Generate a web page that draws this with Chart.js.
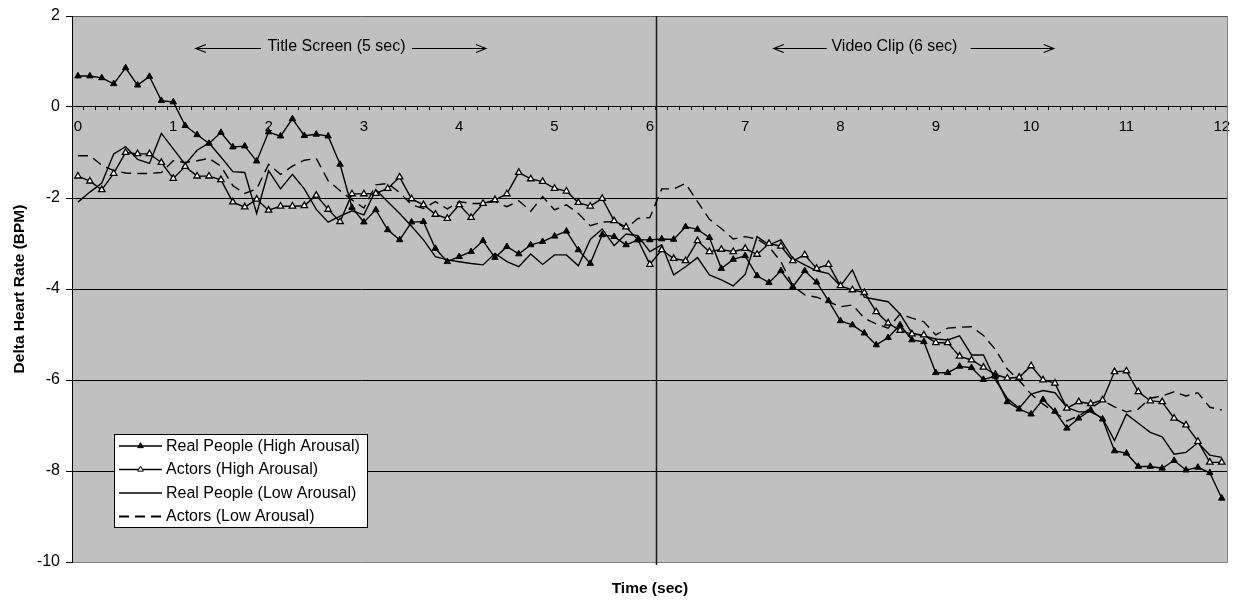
<!DOCTYPE html>
<html>
<head>
<meta charset="utf-8">
<script src="https://cdn.jsdelivr.net/npm/chart.js@4.4.1/dist/chart.umd.min.js"></script>
<style>
html,body{margin:0;padding:0;background:#fff;}
#wrap{width:1233px;height:602px;position:relative;}
</style>
</head>
<body>
<div id="wrap"><canvas id="c" width="1233" height="602"></canvas></div>
<script>
// ---------- DATA ----------
const categories = [
  0,0.125,0.25,0.375,0.5,0.625,0.75,0.875,
  1,1.125,1.25,1.375,1.5,1.625,1.75,1.875,
  2,2.125,2.25,2.375,2.5,2.625,2.75,2.875,
  3,3.125,3.25,3.375,3.5,3.625,3.75,3.875,
  4,4.125,4.25,4.375,4.5,4.625,4.75,4.875,
  5,5.125,5.25,5.375,5.5,5.625,5.75,5.875,
  6,6.125,6.25,6.375,6.5,6.625,6.75,6.875,
  7,7.125,7.25,7.375,7.5,7.625,7.75,7.875,
  8,8.125,8.25,8.375,8.5,8.625,8.75,8.875,
  9,9.125,9.25,9.375,9.5,9.625,9.75,9.875,
  10,10.125,10.25,10.375,10.5,10.625,10.75,10.875,
  11,11.125,11.25,11.375,11.5,11.625,11.75,11.875,
  12
];
const xTickLabels = ['0','1','2','3','4','5','6','7','8','9','10','11','12'];

const realHigh = [
  0.68,0.68,0.64,0.51,0.86,0.48,0.67,0.14,
  0.11,-0.41,-0.61,-0.80,-0.56,-0.88,-0.86,-1.19,
  -0.55,-0.64,-0.26,-0.63,-0.60,-0.64,-1.26,-2.21,
  -2.53,-2.26,-2.70,-2.92,-2.53,-2.52,-3.11,-3.40,
  -3.29,-3.18,-2.94,-3.31,-3.07,-3.23,-3.03,-2.96,
  -2.84,-2.73,-3.14,-3.44,-2.81,-2.85,-3.03,-2.92,
  -2.92,-2.90,-2.91,-2.63,-2.69,-2.87,-3.55,-3.35,
  -3.27,-3.71,-3.86,-3.60,-3.95,-3.60,-3.85,-4.26,
  -4.70,-4.79,-4.97,-5.23,-5.07,-4.79,-5.12,-5.16,
  -5.84,-5.84,-5.70,-5.73,-5.99,-5.92,-6.48,-6.64,
  -6.75,-6.43,-6.69,-7.06,-6.84,-6.66,-6.86,-7.56,
  -7.61,-7.90,-7.90,-7.94,-7.77,-7.98,-7.92,-8.04,
  -8.60
];
const actorsHigh = [
  -1.52,-1.63,-1.82,-1.46,-1.00,-1.03,-1.03,-1.22,
  -1.57,-1.31,-1.52,-1.52,-1.60,-2.09,-2.20,-2.03,
  -2.27,-2.18,-2.18,-2.17,-1.94,-2.25,-2.52,-1.91,
  -1.91,-1.90,-1.79,-1.54,-2.02,-2.15,-2.36,-2.45,
  -2.15,-2.43,-2.12,-2.04,-1.91,-1.44,-1.58,-1.64,
  -1.79,-1.85,-2.10,-2.18,-2.01,-2.50,-2.64,-2.92,
  -3.46,-3.14,-3.33,-3.38,-2.94,-3.18,-3.13,-3.18,
  -3.11,-3.24,-3.00,-3.06,-3.38,-3.25,-3.55,-3.46,
  -3.93,-4.02,-4.08,-4.50,-4.75,-4.91,-4.99,-5.01,
  -5.18,-5.18,-5.48,-5.56,-5.72,-5.88,-5.96,-5.94,
  -5.69,-6.00,-6.07,-6.62,-6.48,-6.52,-6.44,-5.82,
  -5.80,-6.26,-6.46,-6.48,-6.84,-6.99,-7.35,-7.81,
  -7.81
];
const realLow = [
  -2.09,-1.87,-1.67,-1.03,-0.87,-1.15,-1.24,-0.58,
  -0.92,-1.26,-0.95,-0.79,-1.10,-1.42,-1.44,-2.34,
  -1.40,-1.80,-1.48,-1.80,-2.25,-2.53,-2.40,-2.28,
  -2.37,-1.82,-2.08,-2.34,-2.62,-2.92,-3.29,-3.36,
  -3.40,-3.44,-3.47,-3.22,-3.40,-3.51,-3.23,-3.46,
  -3.25,-3.25,-3.49,-2.91,-2.68,-3.05,-2.79,-2.83,
  -3.18,-3.03,-3.69,-3.51,-3.31,-3.69,-3.80,-3.93,
  -3.68,-2.85,-3.03,-2.92,-3.33,-3.47,-3.60,-3.66,
  -3.93,-3.58,-4.18,-4.23,-4.28,-4.55,-4.97,-5.03,
  -5.10,-5.12,-5.03,-5.45,-5.45,-6.00,-6.40,-6.62,
  -6.31,-6.23,-6.28,-6.60,-6.70,-6.70,-6.84,-7.33,
  -6.75,-6.95,-7.15,-7.25,-7.63,-7.59,-7.38,-7.65,
  -7.70
];
const actorsLow = [
  -1.07,-1.07,-1.28,-1.40,-1.45,-1.46,-1.46,-1.44,
  -1.18,-1.22,-1.18,-1.13,-1.30,-1.73,-1.90,-1.80,
  -1.26,-1.48,-1.30,-1.17,-1.13,-1.62,-1.84,-2.04,
  -2.22,-1.71,-1.68,-1.88,-2.15,-2.23,-2.08,-2.24,
  -2.08,-2.12,-2.12,-2.08,-2.19,-2.06,-2.29,-1.97,
  -2.26,-2.15,-2.34,-2.61,-2.53,-2.52,-2.67,-2.45,
  -2.43,-1.80,-1.80,-1.68,-2.08,-2.47,-2.67,-2.90,
  -2.85,-2.90,-3.07,-3.40,-3.93,-4.13,-4.18,-4.28,
  -4.39,-4.35,-4.64,-4.77,-4.86,-4.55,-4.64,-4.72,
  -5.01,-4.86,-4.84,-4.83,-5.02,-5.33,-5.76,-6.01,
  -6.31,-6.53,-6.71,-6.90,-6.79,-6.62,-6.45,-6.59,
  -6.70,-6.64,-6.40,-6.35,-6.26,-6.35,-6.28,-6.60,
  -6.66
];
const seriesNames = [
  'Real People (High Arousal)',
  'Actors (High Arousal)',
  'Real People (Low Arousal)',
  'Actors (Low Arousal)'
];
const yAxisTitle = 'Delta Heart Rate (BPM)';
const xAxisTitle = 'Time (sec)';
const annotationTexts = ['Title Screen (5 sec)', 'Video Clip (6 sec)'];

// ---------- STYLE / LAYOUT ----------
const FONT = '"Liberation Sans", Arial, Helvetica, sans-serif';
Chart.defaults.font.family = FONT;
Chart.defaults.color = '#000';

const TRI_R = 3.7;

// annotation placement in data units (category index, y value)
const annotationLayout = [
  {text: annotationTexts[0], cx: 21.7, ty: 1.325, ay: 1.29, left: [9.9, 15.36], right: [28.03, 34.24]},
  {text: annotationTexts[1], cx: 68.53, ty: 1.325, ay: 1.29, left: [58.4, 62.85], right: [74.93, 81.9]}
];

function triPath(ctx, x, y, r) {
  ctx.beginPath();
  ctx.moveTo(x, y - r);
  ctx.lineTo(x + 0.8660254 * r, y + 0.5 * r);
  ctx.lineTo(x - 0.8660254 * r, y + 0.5 * r);
  ctx.closePath();
}

const bgPlugin = {
  id: 'bg',
  beforeDraw(chart) {
    const {ctx, chartArea: a} = chart;
    ctx.save();
    ctx.fillStyle = '#fff';
    ctx.fillRect(0, 0, chart.width, chart.height);
    ctx.fillStyle = '#c0c0c0';
    ctx.fillRect(a.left, a.top, a.right - a.left, a.bottom - a.top);
    ctx.restore();
  },
  beforeDatasetsDraw(chart) {
    const {ctx, chartArea: a} = chart;
    const xs = chart.scales.x;
    const px = Math.round((xs.getPixelForValue(48) + xs.getPixelForValue(49)) / 2) + 0.5;
    ctx.save();
    ctx.strokeStyle = '#808080';
    ctx.lineWidth = 1;
    ctx.beginPath();
    ctx.moveTo(Math.round(a.right) - 0.5, a.top);
    ctx.lineTo(Math.round(a.right) - 0.5, a.bottom);
    ctx.stroke();
    ctx.strokeStyle = '#1a1a1a';
    ctx.lineWidth = 1.5;
    ctx.beginPath();
    ctx.moveTo(px, a.top);
    ctx.lineTo(px, a.bottom + 3);
    ctx.stroke();
    ctx.restore();
  },
  afterDraw(chart) {
    const {ctx} = chart;
    const xs = chart.scales.x, ys = chart.scales.y;
    ctx.save();
    ctx.font = '16px ' + FONT;
    ctx.fillStyle = '#000';
    ctx.strokeStyle = '#000';
    ctx.lineWidth = 1.2;
    ctx.textAlign = 'center';
    ctx.textBaseline = 'middle';
    annotationLayout.forEach(an => {
      const ty = ys.getPixelForValue(an.ty);
      const ay = Math.round(ys.getPixelForValue(an.ay)) + 0.5;
      ctx.fillText(an.text, xs.getPixelForValue(an.cx), ty);
      const l0 = xs.getPixelForValue(an.left[0]), l1 = xs.getPixelForValue(an.left[1]);
      const r0 = xs.getPixelForValue(an.right[0]), r1 = xs.getPixelForValue(an.right[1]);
      ctx.beginPath();
      ctx.moveTo(l0, ay); ctx.lineTo(l1, ay);
      ctx.moveTo(l0 + 10, ay - 4); ctx.lineTo(l0, ay); ctx.lineTo(l0 + 10, ay + 4);
      ctx.moveTo(r0, ay); ctx.lineTo(r1, ay);
      ctx.moveTo(r1 - 10, ay - 4); ctx.lineTo(r1, ay); ctx.lineTo(r1 - 10, ay + 4);
      ctx.stroke();
    });
    const L = {x: 114.5, y: 434.5, w: 253, h: 93};
    ctx.fillStyle = '#fff';
    ctx.fillRect(L.x, L.y, L.w, L.h);
    ctx.strokeStyle = '#000';
    ctx.lineWidth = 1;
    ctx.strokeRect(L.x, L.y, L.w, L.h);
    const rows = [446, 469.5, 493, 516.5];
    ctx.textAlign = 'left';
    ctx.font = '16px ' + FONT;
    chart.data.datasets.forEach((ds, k) => {
      const y = rows[k];
      ctx.strokeStyle = '#000';
      ctx.lineWidth = ds.borderDash ? 2 : 1.5;
      ctx.setLineDash(ds.borderDash || []);
      ctx.beginPath();
      ctx.moveTo(119, y);
      ctx.lineTo(162, y);
      ctx.stroke();
      ctx.setLineDash([]);
      if (ds.pointRadius > 0) {
        triPath(ctx, 140.5, y, TRI_R - 0.4);
        ctx.fillStyle = ds.pointBackgroundColor;
        ctx.fill();
        ctx.lineWidth = 1;
        ctx.stroke();
      }
      ctx.fillStyle = '#000';
      ctx.fillText(ds.label, 166, y + 0.5);
    });
    ctx.restore();
  }
};

const ctx = document.getElementById('c').getContext('2d');
new Chart(ctx, {
  type: 'line',
  data: {
    labels: categories,
    datasets: [
      {
        label: seriesNames[0], data: realHigh, xAxisID: 'x', yAxisID: 'y',
        borderColor: '#000', borderWidth: 1.4, tension: 0, fill: false,
        pointStyle: 'triangle', pointRadius: TRI_R,
        pointBackgroundColor: '#000', pointBorderColor: '#000', pointBorderWidth: 1
      },
      {
        label: seriesNames[1], data: actorsHigh, xAxisID: 'x', yAxisID: 'y',
        borderColor: '#000', borderWidth: 1.4, tension: 0, fill: false,
        pointStyle: 'triangle', pointRadius: TRI_R,
        pointBackgroundColor: '#fff', pointBorderColor: '#000', pointBorderWidth: 1.3
      },
      {
        label: seriesNames[2], data: realLow, xAxisID: 'x', yAxisID: 'y',
        borderColor: '#000', borderWidth: 1.4, tension: 0, fill: false,
        pointRadius: 0
      },
      {
        label: seriesNames[3], data: actorsLow, xAxisID: 'x', yAxisID: 'y',
        borderColor: '#000', borderWidth: 1.4, tension: 0, fill: false,
        borderDash: [10, 6], pointRadius: 0
      }
    ]
  },
  options: {
    responsive: false,
    devicePixelRatio: 1,
    animation: false,
    events: [],
    layout: {padding: {top: 16, right: 4, left: 0, bottom: 0}},
    plugins: {legend: {display: false}, tooltip: {enabled: false}, title: {display: false}},
    scales: {
      x: {
        type: 'category',
        position: {y: 0},
        offset: true,
        grid: {offset: true, drawOnChartArea: false, drawTicks: true, tickLength: 3, color: '#000', lineWidth: 1},
        border: {display: true, color: '#000', width: 1},
        ticks: {
          autoSkip: false, maxRotation: 0, minRotation: 0, padding: 8,
          font: {size: 15}, color: '#000',
          callback: (v, i) => (Number.isInteger(categories[i]) ? xTickLabels[categories[i]] : '')
        },
        afterFit(s) { s.paddingLeft = 0; s.paddingRight = 0; }
      },
      x2: {
        type: 'linear', position: 'bottom', min: 0, max: 1, display: true,
        ticks: {display: false}, grid: {display: false}, border: {display: false},
        title: {display: true, text: xAxisTitle, font: {size: 15.5, weight: 'bold'}, padding: {top: 0, bottom: 4}},
        afterFit(s) { s.height = 40; }
      },
      y: {
        type: 'linear', position: 'left', min: -10, max: 2,
        ticks: {stepSize: 2, font: {size: 16}, color: '#000', padding: 6},
        grid: {
          drawTicks: true, tickLength: 6, lineWidth: 1,
          color: c => (c.tick && c.tick.value === -10 ? '#808080' : (c.tick && c.tick.value === 2 ? '#555' : '#000')),
          tickColor: '#000'
        },
        border: {display: true, color: '#000', width: 1},
        title: {display: true, text: yAxisTitle, font: {size: 15.5, weight: 'bold'}, padding: {top: 10, bottom: 0}},
        afterFit(s) { s.width = 72; }
      }
    }
  },
  plugins: [bgPlugin]
});
</script>
</body>
</html>
